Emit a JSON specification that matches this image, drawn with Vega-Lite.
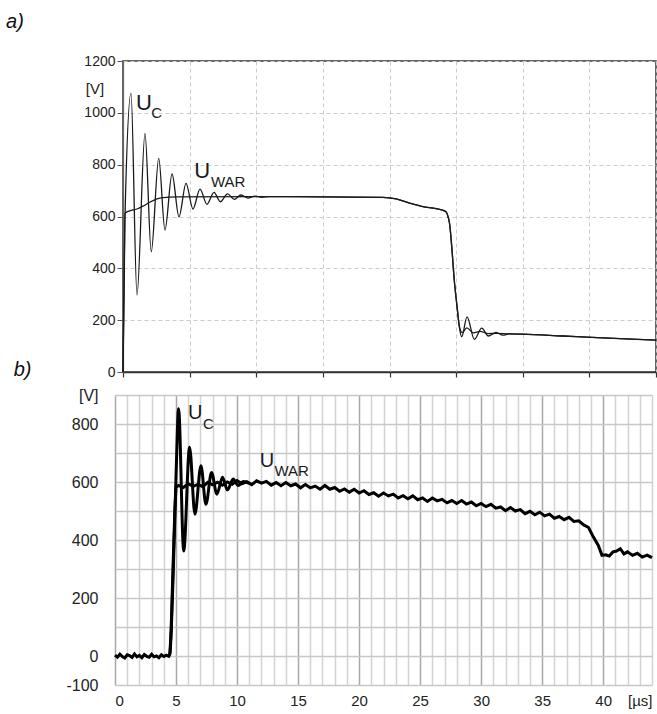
{
  "$schema": "https://vega.github.io/schema/vega-lite/v6.json",
  "background": "white",
  "padding": {"left": 5, "top": 10, "right": 2, "bottom": 5},
  "spacing": 5,
  "config": {"font": "Liberation Sans", "axis": {"labelFont": "Liberation Sans", "labelColor": "#222"}},
  "datasets": {
    "a_uc": [
      {"t":0,"v":0},{"t":0.08,"v":300},{"t":0.15,"v":600},{"t":0.6,"v":1075},{"t":1.05,"v":297},{"t":1.65,"v":921},{"t":2.12,"v":464},{"t":2.68,"v":824},{"t":3.15,"v":548},{"t":3.68,"v":764},{"t":4.2,"v":599},{"t":4.73,"v":728},{"t":5.25,"v":629},{"t":5.78,"v":706},{"t":6.3,"v":647},{"t":6.83,"v":693},{"t":7.3,"v":657},{"t":7.85,"v":687},{"t":8.35,"v":666},{"t":8.85,"v":683},{"t":9.38,"v":671},{"t":9.9,"v":679},{"t":10.4,"v":674},{"t":11,"v":677},{"t":15,"v":676},{"t":19.5,"v":674},{"t":20.5,"v":668},{"t":21.5,"v":652},{"t":22.5,"v":638},{"t":23.5,"v":630},{"t":24.2,"v":620},{"t":24.5,"v":575},{"t":24.67,"v":484},{"t":24.86,"v":355},{"t":25.07,"v":252},{"t":25.25,"v":170},{"t":25.42,"v":136},{"t":25.82,"v":213},{"t":26.37,"v":126},{"t":26.92,"v":169},{"t":27.42,"v":139},{"t":28.0,"v":153},{"t":28.5,"v":142},{"t":29,"v":147},{"t":30,"v":146},{"t":33,"v":139},{"t":36,"v":132},{"t":40,"v":123}
    ],
    "a_uwar": [
      {"t":0,"v":0},{"t":0.08,"v":350},{"t":0.15,"v":612},{"t":0.5,"v":622},{"t":1.0,"v":628},{"t":1.5,"v":640},{"t":2.0,"v":655},{"t":2.5,"v":667},{"t":3.0,"v":673},{"t":4,"v":676},{"t":10,"v":677},{"t":15,"v":676},{"t":19.5,"v":674},{"t":20.5,"v":668},{"t":21.5,"v":652},{"t":22.5,"v":638},{"t":23.5,"v":630},{"t":24.2,"v":620},{"t":24.5,"v":575},{"t":24.67,"v":484},{"t":24.86,"v":355},{"t":25.07,"v":252},{"t":25.25,"v":175},{"t":25.45,"v":152},{"t":25.8,"v":170},{"t":26.3,"v":151},{"t":26.8,"v":157},{"t":27.4,"v":148},{"t":28,"v":149},{"t":29,"v":147},{"t":30,"v":146},{"t":33,"v":139},{"t":36,"v":132},{"t":40,"v":123}
    ],
    "b_uc": [
      {"t":4.4,"v":0},{"t":4.5,"v":10},{"t":4.75,"v":260},{"t":5.0,"v":620},{"t":5.21,"v":853},{"t":5.63,"v":362},{"t":6.11,"v":720},{"t":6.55,"v":489},{"t":7.04,"v":656},{"t":7.45,"v":523},{"t":7.91,"v":633},{"t":8.35,"v":558},{"t":8.81,"v":616},{"t":9.21,"v":572},{"t":9.68,"v":610},{"t":10.1,"v":588},{"t":10.5,"v":602},{"t":11,"v":595}
    ],
    "b_uwar": [
      {"t":0,"v":3},{"t":0.2,"v":-4},{"t":0.4,"v":6},{"t":0.6,"v":-2},{"t":0.8,"v":-7},{"t":1.0,"v":4},{"t":1.2,"v":1},{"t":1.4,"v":-5},{"t":1.6,"v":7},{"t":1.8,"v":-3},{"t":2.0,"v":2},{"t":2.2,"v":-6},{"t":2.4,"v":5},{"t":2.6,"v":-1},{"t":2.8,"v":-4},{"t":3.0,"v":6},{"t":3.2,"v":-3},{"t":3.4,"v":0},{"t":3.6,"v":-6},{"t":3.8,"v":4},{"t":4.0,"v":-2},{"t":4.2,"v":3},{"t":4.4,"v":-1},{"t":4.5,"v":8},{"t":4.6,"v":90},{"t":4.75,"v":300},{"t":4.9,"v":500},{"t":5.0,"v":582},
      {"t":5.2,"v":588},{"t":5.6,"v":581},{"t":6.0,"v":594},{"t":6.4,"v":585},{"t":6.8,"v":592},{"t":7.2,"v":584},{"t":7.6,"v":599},{"t":8.0,"v":590},{"t":8.4,"v":599},{"t":8.8,"v":589},{"t":9.2,"v":600},{"t":9.6,"v":592},{"t":10.0,"v":605},{"t":10.4,"v":594},{"t":10.8,"v":601},{"t":11.2,"v":591},{"t":11.6,"v":604},{"t":12.0,"v":596},{"t":12.4,"v":602},{"t":12.8,"v":589},{"t":13.2,"v":598},{"t":13.6,"v":587},{"t":14.0,"v":598},{"t":14.4,"v":587},{"t":14.8,"v":593},{"t":15.2,"v":580},{"t":15.6,"v":591},{"t":16.0,"v":580},{"t":16.4,"v":586},{"t":16.8,"v":575},{"t":17.2,"v":588},{"t":17.6,"v":575},{"t":18.0,"v":581},{"t":18.4,"v":568},{"t":18.8,"v":576},{"t":19.2,"v":565},{"t":19.6,"v":575},{"t":20.0,"v":562},{"t":20.4,"v":570},{"t":20.8,"v":557},{"t":21.2,"v":563},{"t":21.6,"v":551},{"t":22.0,"v":562},{"t":22.4,"v":552},{"t":22.8,"v":558},{"t":23.2,"v":545},{"t":23.6,"v":553},{"t":24.0,"v":542},{"t":24.4,"v":552},{"t":24.8,"v":539},{"t":25.2,"v":545},{"t":25.6,"v":533},{"t":26.0,"v":545},{"t":26.4,"v":535},{"t":26.8,"v":540},{"t":27.2,"v":528},{"t":27.6,"v":536},{"t":28.0,"v":526},{"t":28.4,"v":536},{"t":28.8,"v":524},{"t":29.2,"v":531},{"t":29.6,"v":518},{"t":30.0,"v":526},{"t":30.4,"v":515},{"t":30.8,"v":523},{"t":31.2,"v":510},{"t":31.6,"v":514},{"t":32.0,"v":501},{"t":32.4,"v":512},{"t":32.8,"v":500},{"t":33.2,"v":505},{"t":33.6,"v":491},{"t":34.0,"v":499},{"t":34.4,"v":487},{"t":34.8,"v":496},{"t":35.2,"v":483},{"t":35.6,"v":489},{"t":36.0,"v":475},{"t":36.4,"v":481},{"t":36.8,"v":470},{"t":37.2,"v":478},{"t":37.6,"v":464},{"t":38.0,"v":466},{"t":38.4,"v":452},{"t":38.8,"v":443},{"t":39.2,"v":410},{"t":39.6,"v":381},{"t":39.9,"v":347},{"t":40.2,"v":349},{"t":40.5,"v":345},{"t":40.8,"v":359},{"t":41.1,"v":362},{"t":41.4,"v":370},{"t":41.7,"v":352},{"t":42.0,"v":359},{"t":42.4,"v":347},{"t":42.8,"v":354},{"t":43.2,"v":341},{"t":43.6,"v":348},{"t":44.0,"v":339}
    ]
  },
  "vconcat": [
    {
      "width": 533,
      "height": 311,
      "view": {"stroke": "#333", "strokeWidth": 1.5},
      "layer": [
        {
          "data": {"name": "a_uwar"},
          "mark": {"type": "line", "interpolate": "monotone", "color": "#1a1a1a", "strokeWidth": 1.3},
          "encoding": {
            "x": {"field": "t", "type": "quantitative", "scale": {"domain": [0, 40], "nice": false},
              "axis": {"values": [0,5,10,15,20,25,30,35,40], "tickCount": 100, "labels": false, "title": null, "tickSize": 5, "tickColor": "#333", "tickWidth": 1.2, "domainColor": "#333", "domainWidth": 1.5, "grid": true, "gridColor": "#cccccc", "gridDash": [4,3]}},
            "y": {"field": "v", "type": "quantitative", "scale": {"domain": [0, 1200], "nice": false},
              "axis": {"values": [0,200,400,600,800,1000,1200], "tickCount": 100, "format": "d", "title": null, "tickSize": 6, "tickColor": "#555", "domainColor": "#666", "domainWidth": 1.2, "labelFontSize": 14, "labelPadding": 2, "grid": true, "gridColor": "#cccccc", "gridDash": [4,3]}}
          }
        },
        {
          "data": {"name": "a_uc"},
          "mark": {"type": "line", "interpolate": "monotone", "color": "#1a1a1a", "strokeWidth": 1.3},
          "encoding": {
            "x": {"field": "t", "type": "quantitative", "scale": {"domain": [0, 40], "nice": false}},
            "y": {"field": "v", "type": "quantitative", "scale": {"domain": [0, 1200], "nice": false}}
          }
        },
        {
          "data": {"values": [{"t": 0.98, "v": 1011, "s": "U"}, {"t": 5.35, "v": 747, "s": "U"}]},
          "mark": {"type": "text", "align": "left", "baseline": "alphabetic", "fontSize": 22, "color": "#1a1a1a"},
          "encoding": {
            "x": {"field": "t", "type": "quantitative", "scale": {"domain": [0, 40], "nice": false}},
            "y": {"field": "v", "type": "quantitative", "scale": {"domain": [0, 1200], "nice": false}},
            "text": {"field": "s"}
          }
        },
        {
          "data": {"values": [{"t": 2.12, "v": 979, "s": "C"}, {"t": 6.6, "v": 715, "s": "WAR"}]},
          "mark": {"type": "text", "align": "left", "baseline": "alphabetic", "fontSize": 15, "color": "#1a1a1a"},
          "encoding": {
            "x": {"field": "t", "type": "quantitative", "scale": {"domain": [0, 40], "nice": false}},
            "y": {"field": "v", "type": "quantitative", "scale": {"domain": [0, 1200], "nice": false}},
            "text": {"field": "s"}
          }
        },
        {
          "data": {"values": [{"t": -2.1, "v": 1092, "s": "[V]"}]},
          "mark": {"type": "text", "align": "center", "baseline": "middle", "fontSize": 15, "color": "#222"},
          "encoding": {
            "x": {"field": "t", "type": "quantitative", "scale": {"domain": [0, 40], "nice": false}},
            "y": {"field": "v", "type": "quantitative", "scale": {"domain": [0, 1200], "nice": false}},
            "text": {"field": "s"}
          }
        },
        {
          "data": {"values": [{"t": -8.78, "v": 1329, "s": "a)"}, {"t": -8.2, "v": -17, "s": "b)"}]},
          "mark": {"type": "text", "align": "left", "baseline": "alphabetic", "fontSize": 20, "fontStyle": "italic", "color": "#111"},
          "encoding": {
            "x": {"field": "t", "type": "quantitative", "scale": {"domain": [0, 40], "nice": false}},
            "y": {"field": "v", "type": "quantitative", "scale": {"domain": [0, 1200], "nice": false}},
            "text": {"field": "s"}
          }
        }
      ]
    },
    {
      "width": 529,
      "height": 290,
      "view": {"stroke": null},
      "layer": [
        {
          "data": {"name": "b_uwar"},
          "mark": {"type": "line", "interpolate": "linear", "color": "#000000", "strokeWidth": 3},
          "encoding": {
            "x": {"field": "t", "type": "quantitative", "scale": {"domain": [0, 44], "nice": false, "range": [-8, 529]},
              "axis": {"values": [0,1,2,3,4,5,6,7,8,9,10,11,12,13,14,15,16,17,18,19,20,21,22,23,24,25,26,27,28,29,30,31,32,33,34,35,36,37,38,39,40,41,42,43,44],
                "tickCount": 100, "format": "d",
                "labelExpr": "datum.value === 43 ? '[µs]' : ((datum.value % 5 === 0 && datum.value <= 40) ? datum.label : '')",
                "title": null, "ticks": false, "domain": false, "labelFontSize": 15, "labelPadding": 8, "labelOverlap": false,
                "grid": true, "gridWidth": 1.5,
                "gridColor": {"condition": {"test": "datum.value % 5 === 0 && datum.value <= 40", "value": "#a9a9a9"}, "value": "#d3d3d3"}}},
            "y": {"field": "v", "type": "quantitative", "scale": {"domain": [-100, 900], "nice": false},
              "axis": {"values": [-100,0,100,200,300,400,500,600,700,800,900],
                "tickCount": 100, "format": "d", "offset": 8,
                "labelExpr": "datum.value === 900 ? '[V]' : (datum.value === -100 ? '-100' : (datum.value % 200 === 0 ? datum.label : ''))",
                "title": null, "ticks": false, "domain": false, "labelFontSize": 16, "labelPadding": 17, "labelOverlap": false,
                "grid": true, "gridWidth": 1.5, "gridColor": "#c8c8c8"}}
          }
        },
        {
          "data": {"name": "b_uc"},
          "mark": {"type": "line", "interpolate": "monotone", "color": "#000000", "strokeWidth": 3},
          "encoding": {
            "x": {"field": "t", "type": "quantitative", "scale": {"domain": [0, 44], "nice": false, "range": [-8, 529]}},
            "y": {"field": "v", "type": "quantitative", "scale": {"domain": [-100, 900], "nice": false}}
          }
        },
        {
          "data": {"values": [{"t": 5.98, "v": 818, "s": "U"}, {"t": 11.86, "v": 651, "s": "U"}]},
          "mark": {"type": "text", "align": "left", "baseline": "alphabetic", "fontSize": 20, "color": "#1a1a1a"},
          "encoding": {
            "x": {"field": "t", "type": "quantitative", "scale": {"domain": [0, 44], "nice": false, "range": [-8, 529]}},
            "y": {"field": "v", "type": "quantitative", "scale": {"domain": [-100, 900], "nice": false}},
            "text": {"field": "s"}
          }
        },
        {
          "data": {"values": [{"t": 7.21, "v": 783, "s": "C"}, {"t": 13.06, "v": 621, "s": "WAR"}]},
          "mark": {"type": "text", "align": "left", "baseline": "alphabetic", "fontSize": 15, "color": "#1a1a1a"},
          "encoding": {
            "x": {"field": "t", "type": "quantitative", "scale": {"domain": [0, 44], "nice": false, "range": [-8, 529]}},
            "y": {"field": "v", "type": "quantitative", "scale": {"domain": [-100, 900], "nice": false}},
            "text": {"field": "s"}
          }
        }
      ]
    }
  ]
}
